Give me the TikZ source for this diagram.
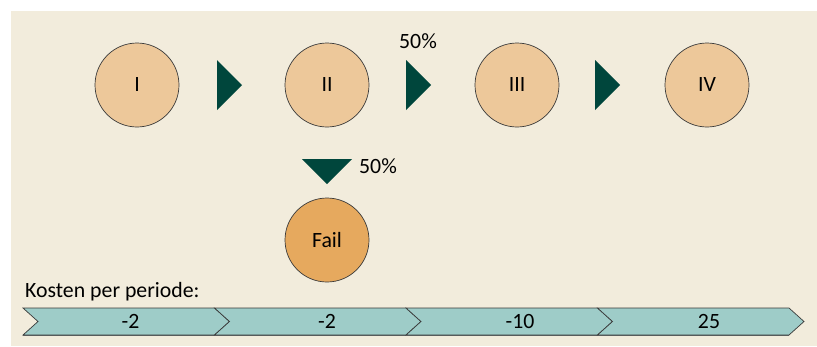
\documentclass[tikz,border=0pt]{standalone}
\usepackage{fontspec}
\setmainfont{Carlito}
\definecolor{bg}{HTML}{F2ECDC}
\definecolor{stagefill}{HTML}{EDC89A}
\definecolor{failfill}{HTML}{E6A95E}
\definecolor{trigreen}{HTML}{00463C}
\definecolor{bandfill}{HTML}{9ECCC8}
\definecolor{edge}{HTML}{3A3A3A}
\tikzset{
  stage/.style={circle, draw=edge, line width=0.7pt, fill=stagefill, minimum size=84pt, inner sep=0pt},
  failstage/.style={stage, fill=failfill},
  tri/.style={fill=trigreen},
  band/.style={fill=bandfill, draw=edge, line width=0.7pt, line join=miter},
  bandshadow/.style={draw=edge!80, line width=1.6pt},
  lbl/.style={inner sep=0pt, text=black}
}
\begin{document}
\begin{tikzpicture}[x=1pt, y=-1pt, font=\fontsize{21.8}{25}\selectfont]
\useasboundingbox (0,0) rectangle (817,346);
\fill[bg] (11,11) rectangle (817,346);

% stages
\node[stage] (s1) at (137,85) {I};
\node[stage] (s2) at (327,85) {II};
\node[stage] (s3) at (517,85) {III};
\node[stage] (s4) at (707,85) {IV};
\node[failstage] (fail) at (327,240) {Fail};

% arrows (triangles)
\fill[tri] (217,60) -- (242,85) -- (217,110) -- cycle;
\fill[tri] (406,60) -- (431,85) -- (406,110) -- cycle;
\fill[tri] (595,60) -- (620,85) -- (595,110) -- cycle;
\fill[tri] (302,159) -- (352,159) -- (327,184) -- cycle;

\node[lbl] (p1) at (418,41) {50\%};
\node[lbl] (p2) at (378,166) {50\%};

\node[lbl, anchor=base west] (kosten) at (25,297) {Kosten per periode:};

% band of chevrons
\foreach \i/\x in {0/23, 1/214.5, 2/406, 3/597.5} {
  \draw[bandshadow] (\x,335) -- (\x+191.5,335);
  \draw[band] (\x,308) -- (\x+191.5,308) -- (\x+206.5,321.5) -- (\x+191.5,335) -- (\x,335) -- (\x+15,321.5) -- cycle;
}
\node[lbl] (c1) at (130.5,321) {-2};
\node[lbl] (c2) at (327,321) {-2};
\node[lbl] (c3) at (520,321) {-10};
\node[lbl] (c4) at (709,321) {25};
\end{tikzpicture}
\end{document}
